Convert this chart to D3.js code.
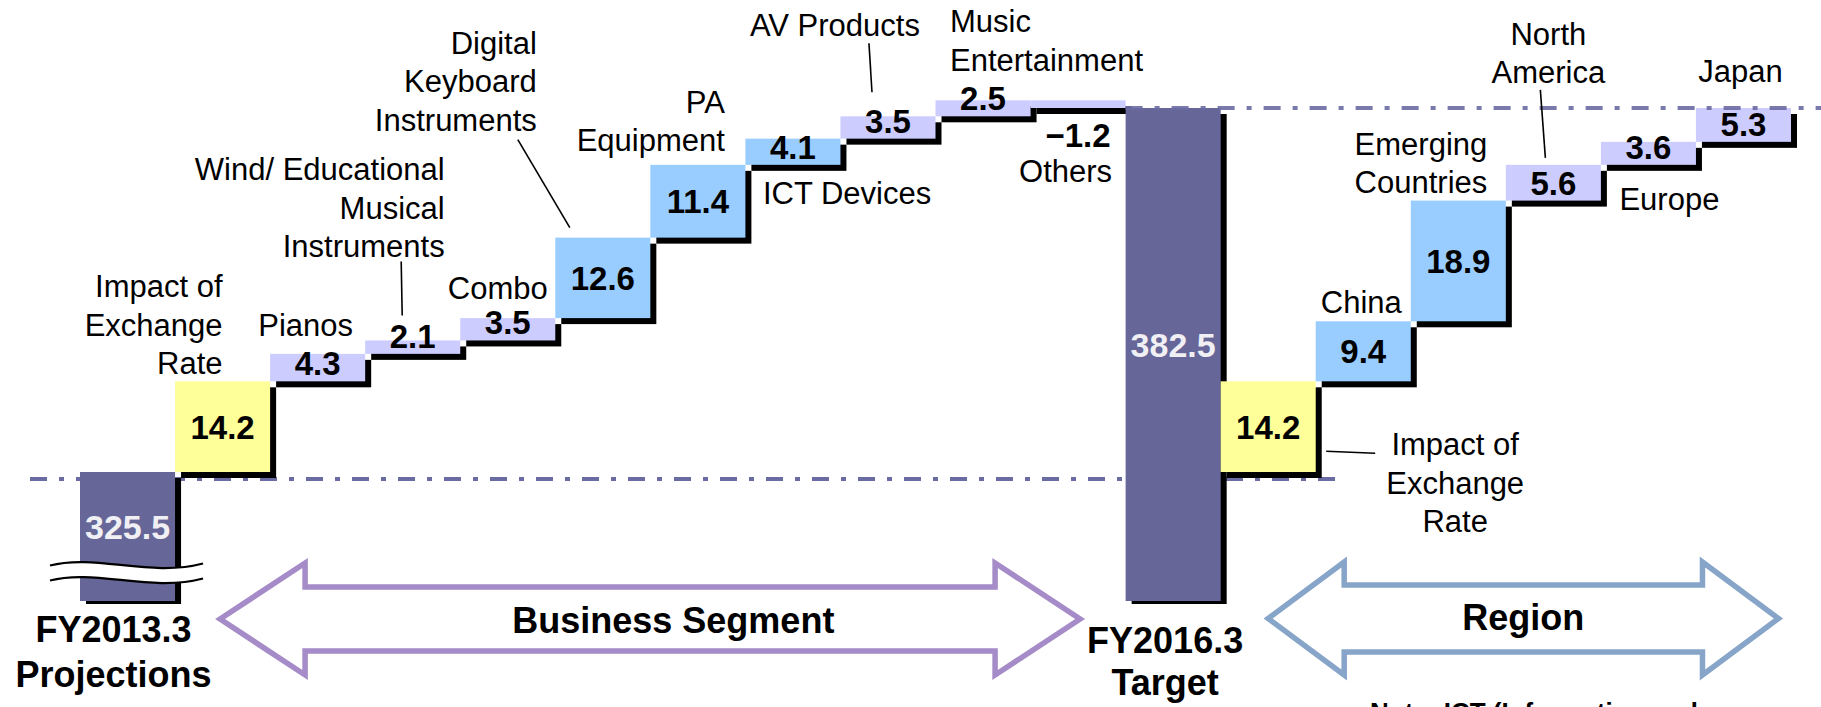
<!DOCTYPE html>
<html><head><meta charset="utf-8">
<script src="https://cdn.jsdelivr.net/npm/d3@7"></script>
<style>html,body{margin:0;padding:0;background:#fff;overflow:hidden}</style>
</head><body>
<svg id="chart" width="1821" height="707"></svg>
<script>
// ---------------- DATA ----------------
const baseLabel = "FY2013.3\nProjections";
const baseValue = 325.5;
const targetLabel = "FY2016.3\nTarget";
const targetValue = 382.5;

const segmentNames = ["Impact of\nExchange\nRate", "Pianos", "Wind/ Educational\nMusical\nInstruments", "Combo",
  "Digital\nKeyboard\nInstruments", "PA\nEquipment", "ICT Devices", "AV Products", "Music\nEntertainment", "Others"];
const segmentValues = [14.2, 4.3, 2.1, 3.5, 12.6, 11.4, 4.1, 3.5, 2.5, -1.2];
const segmentGroups = ["fx", "minor", "minor", "minor", "major", "major", "major", "minor", "minor", "minor"];

const regionNames = ["Impact of\nExchange\nRate", "China", "Emerging\nCountries", "North\nAmerica", "Europe", "Japan"];
const regionValues = [14.2, 9.4, 18.9, 5.6, 3.6, 5.3];
const regionGroups = ["fx", "major", "major", "minor", "minor", "minor"];

const sectionTitles = ["Business Segment", "Region"];
const noteText = "Note: ICT (Information and";

// ---------------- BUILD ----------------
const bars = [];
bars.push({name: baseLabel, kind: "total", start: null, end: baseValue, value: baseValue});
let run = baseValue;
segmentNames.forEach((n, i) => { bars.push({name: n, kind: segmentGroups[i], start: run, end: run + segmentValues[i], value: segmentValues[i]}); run += segmentValues[i]; });
bars.push({name: targetLabel, kind: "total", start: null, end: targetValue, value: targetValue});
run = baseValue;
regionNames.forEach((n, i) => { bars.push({name: n, kind: regionGroups[i], start: run, end: run + regionValues[i], value: regionValues[i]}); run += regionValues[i]; });

const W = 1821, H = 707;
const svg = d3.select("#chart");
const FONT = '"Liberation Sans", Arial, Helvetica, sans-serif';
const colors = {total: "#666699", fx: "#ffff99", minor: "#ccccff", major: "#99ccff"};
const dashColor = "#6b6ba3";

const x = d3.scaleBand().domain(d3.range(bars.length)).range([80, 1791]).padding(0);
const yFloor = 305.3;
const y = d3.scaleLinear().domain([yFloor, targetValue]).range([601, 108]);
const bw = x.bandwidth();
const cx = i => x(i) + bw / 2;

bars.forEach((b, i) => {
  if (b.kind === "total") { b.y0 = y(b.end); b.y1 = y(yFloor); }
  else { b.y0 = y(Math.max(b.start, b.end)); b.y1 = y(Math.min(b.start, b.end)); }
});

const SH = 6;
// lower dashed reference line (behind)
svg.append("line").attr("x1", 30).attr("x2", 1340)
  .attr("y1", y(baseValue) + 7).attr("y2", y(baseValue) + 7)
  .attr("stroke", dashColor).attr("stroke-width", 4)
  .attr("stroke-dasharray", "17 12 5 12");

// shadows
svg.append("g").selectAll("rect").data(bars).join("rect")
  .attr("x", (d, i) => x(i) + SH).attr("y", d => d.y0 + SH)
  .attr("width", bw).attr("height", d => d.y1 - d.y0 + (d.kind === "total" ? -3 : 0))
  .attr("fill", "#000");
// bars
svg.append("g").selectAll("rect").data(bars).join("rect")
  .attr("x", (d, i) => x(i)).attr("y", d => d.y0)
  .attr("width", bw).attr("height", d => d.y1 - d.y0)
  .attr("fill", d => colors[d.kind]);

// upper dashed reference line (on top)
svg.append("line").attr("x1", x(11)).attr("x2", W)
  .attr("y1", y(targetValue)).attr("y2", y(targetValue))
  .attr("stroke", dashColor).attr("stroke-width", 4)
  .attr("stroke-dasharray", "17 12 5 12").attr("opacity", 0.9);

// break marks on base bar
{
  const b = bars[0];
  const bx0 = x(0) - 30, bx1 = x(0) + bw + 28;
  const by = b.y0 + (b.y1 - b.y0) * 0.725;
  const gap = 15;
  const wave = (yy) => `M${bx0},${yy} C${bx0 + 45},${yy - 12} ${bx0 + 100},${yy + 12} ${bx1},${yy - 2}`;
  const waveBack = (yy) => `L${bx1},${yy - 2} C${bx0 + 100},${yy + 12} ${bx0 + 45},${yy - 12} ${bx0},${yy} Z`;
  svg.append("path").attr("d", wave(by) + waveBack(by + gap)).attr("fill", "#fff");
  svg.append("path").attr("d", wave(by)).attr("fill", "none").attr("stroke", "#000").attr("stroke-width", 2.2);
  svg.append("path").attr("d", wave(by + gap)).attr("fill", "none").attr("stroke", "#000").attr("stroke-width", 2.2);
}

// value labels
const fmt = d3.format(".1f");
const vg = svg.append("g").attr("font-family", FONT).attr("font-weight", "bold").attr("text-anchor", "middle");
bars.forEach((b, i) => {
  let yy, fill = "#000", size = 33;
  if (b.kind === "total") { yy = (b.y0 + b.y1) / 2 + 2; fill = "#f0f0f4"; size = 34; }
  else if (b.value < 0) { yy = b.y1 + 39; }
  else { yy = Math.min((b.y0 + b.y1) / 2 + 12, b.y1 - 6); }
  vg.append("text").attr("x", cx(i)).attr("y", yy).attr("fill", fill)
    .attr("font-size", size).text(fmt(b.value));
});

// category label layout (offsets relative to bar centre / bar top)
const labelLayout = {
  1: {dx: 0, dy: -84, anchor: "end"},
  2: {dx: -12, dy: -18, anchor: "middle"},
  3: {dx: 32, dy: -160, anchor: "end", leader: [-11.5, -79, -10.5, -25]},
  4: {dx: -10, dy: -19, anchor: "middle"},
  5: {dx: -66, dy: -184, anchor: "end", leader: [-85, -98, -33, -10]},
  6: {dx: 27, dy: -52, anchor: "end"},
  7: {dx: -30, dy: 65, anchor: "start"},
  8: {dx: -53, dy: -80, anchor: "middle", leader: [-19, -73, -16, -24]},
  9: {dx: -33, dy: -68, anchor: "start"},
  10: {dx: -12.5, dy: 82, anchor: "middle"},
  12: {dx: 187, dy: 74, anchor: "middle", leader: [58, 70, 107, 72]},
  13: {dx: -2, dy: -8, anchor: "middle"},
  14: {dx: 29, dy: -46, anchor: "end"},
  15: {dx: -5, dy: -120, anchor: "middle", leader: [-13, -75, -8, -7]},
  16: {dx: 21, dy: 68, anchor: "middle"},
  17: {dx: -3, dy: -26, anchor: "middle"}
};
const lg = svg.append("g").attr("font-family", FONT).attr("font-size", 31).attr("fill", "#000");
Object.entries(labelLayout).forEach(([k, L]) => {
  const i = +k, b = bars[i];
  const t = lg.append("text").attr("text-anchor", L.anchor);
  b.name.split("\n").forEach((line, j) => {
    t.append("tspan").attr("x", cx(i) + L.dx).attr("y", b.y0 + L.dy + j * 38.5).text(line);
  });
  if (L.leader) {
    svg.append("line")
      .attr("x1", cx(i) + L.leader[0]).attr("y1", b.y0 + L.leader[1])
      .attr("x2", cx(i) + L.leader[2]).attr("y2", b.y0 + L.leader[3])
      .attr("stroke", "#000").attr("stroke-width", 1.6);
  }
});

// total labels below bars
const tg = svg.append("g").attr("font-family", FONT).attr("font-size", 36).attr("font-weight", "bold").attr("text-anchor", "middle").attr("fill", "#000");
[[0, -14, 41, 45], [11, -8, 52, 42]].forEach(([i, dx, dy, lh]) => {
  const t = tg.append("text");
  bars[i].name.split("\n").forEach((line, j) => {
    t.append("tspan").attr("x", cx(i) + dx).attr("y", y(yFloor) + dy + j * lh).text(line);
  });
});

// double arrows
function doubleArrow(x1, x2, head, ym, sh, hh, color) {
  const pts = [[x1, ym], [x1 + head, ym - hh], [x1 + head, ym - sh], [x2 - head, ym - sh], [x2 - head, ym - hh],
    [x2, ym], [x2 - head, ym + hh], [x2 - head, ym + sh], [x1 + head, ym + sh], [x1 + head, ym + hh]];
  svg.append("polygon").attr("points", pts.map(p => p.join(",")).join(" "))
    .attr("fill", "#fff").attr("stroke", color).attr("stroke-width", 5.5).attr("stroke-linejoin", "miter");
}
doubleArrow(cx(1) - 2.5, cx(10) + 2, 85, 619, 32, 56, "#a58bc7");
doubleArrow(cx(12), cx(17) + 35, 76, 618.5, 33.5, 56.5, "#87a5c9");

const sg = svg.append("g").attr("font-family", FONT).attr("font-size", 36).attr("font-weight", "bold").attr("text-anchor", "middle").attr("fill", "#000");
sg.append("text").attr("x", (cx(1) + cx(10)) / 2 + 23).attr("y", 633).text(sectionTitles[0]);
sg.append("text").attr("x", (cx(12) + cx(17) + 35) / 2).attr("y", 630).text(sectionTitles[1]);

svg.append("text").attr("x", 1370).attr("y", 721).attr("font-family", FONT).attr("font-size", 26)
  .attr("font-weight", "bold").attr("fill", "#000").text(noteText);
</script>
</body></html>
